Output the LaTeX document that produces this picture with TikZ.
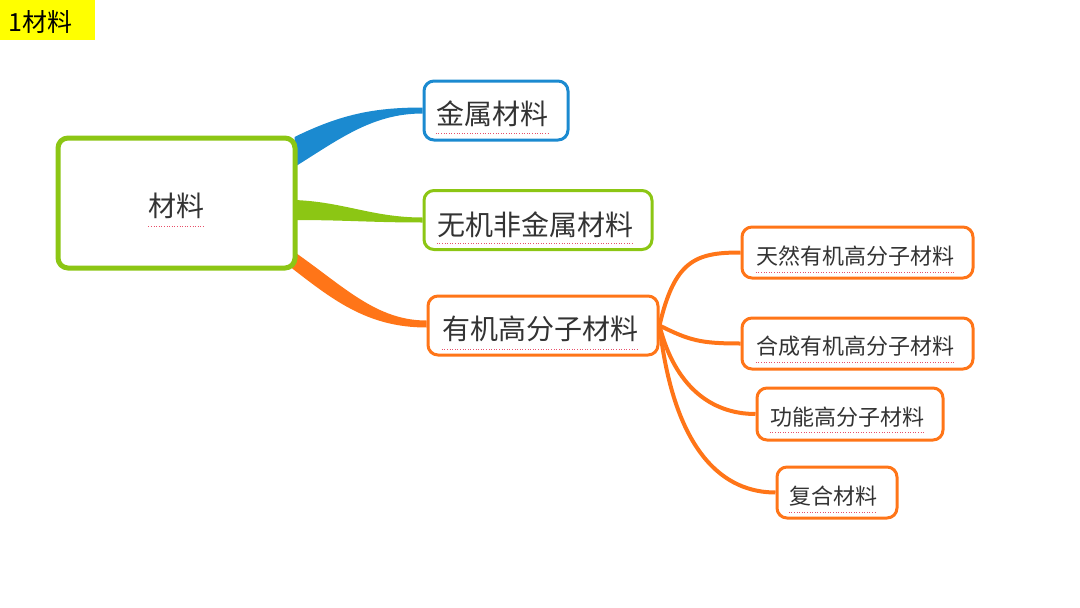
\documentclass[tikz,border=0pt]{standalone}
\usepackage{fontspec}
\setmainfont{Noto Sans CJK SC}
\usetikzlibrary{calc,backgrounds}
\definecolor{cblue}{HTML}{1B8AD0}
\definecolor{cgreen}{HTML}{8CC614}
\definecolor{corange}{HTML}{FF7518}
\definecolor{ctext}{HTML}{333333}
\definecolor{cspell}{HTML}{E8506A}
\definecolor{cyellow}{HTML}{FFFF00}
\begin{document}
\begin{tikzpicture}[x=1pt,y=-1pt,
  box/.style={draw, fill=white, rounded corners=10pt, line width=3pt, inner sep=0pt},
  lbl/.style={text=ctext, inner sep=0pt, anchor=base},
  big/.style={font=\fontsize{28}{30}\selectfont},
  small/.style={font=\fontsize{22}{24}\selectfont},
  spell/.style={cspell, line width=1pt, dash pattern=on 1pt off 1.6pt},
  sub/.style={corange, line width=4pt}]
\useasboundingbox (0,0) rectangle (1080,608);

% title
\node[fill=cyellow, minimum width=95pt, minimum height=40pt, anchor=north west, inner sep=0pt] (title) at (0,0) {};
\node[anchor=base west, inner sep=0pt, font=\fontsize{25}{27}\selectfont] (tt) at (8,31) {1材料};

% boxes
\node[box, draw=cgreen, line width=5pt, minimum width=237pt, minimum height=130pt] (root) at (176.5,203) {};
\node[box, draw=cblue, minimum width=144pt, minimum height=59pt] (b1) at (496,110.5) {};
\node[box, draw=cgreen, minimum width=228pt, minimum height=59pt] (b2) at (538,220) {};
\node[box, draw=corange, minimum width=230pt, minimum height=59pt] (b3) at (543,325.5) {};
\node[box, draw=corange, minimum width=231pt, minimum height=51pt] (c1) at (857.5,252.5) {};
\node[box, draw=corange, minimum width=231pt, minimum height=51pt] (c2) at (857.5,343.5) {};
\node[box, draw=corange, minimum width=186pt, minimum height=52pt] (c3) at (850,414) {};
\node[box, draw=corange, minimum width=120pt, minimum height=51pt] (c4) at (837,492.5) {};

% branches behind the boxes
\begin{scope}[on background layer]
\path[fill=cblue] ($(root.east)+(-3,-66)$) .. controls +(45,-22) and +(-50,0) .. ($(b1.west)+(0,-3)$)
  -- ($(b1.west)+(0,3)$) .. controls +(-50,0) and +(45,-28) .. ($(root.east)+(-3,-36)$) -- cycle;
\path[fill=cgreen] ($(root.east)+(-3,-3)$) .. controls +(50,2) and +(-50,0) .. ($(b2.west)+(0,-2.5)$)
  -- ($(b2.west)+(0,2.5)$) .. controls +(-50,0) and +(50,0) .. ($(root.east)+(-3,17)$) -- cycle;
\path[fill=corange] ($(root.east)+(-3,49)$) .. controls +(50,35) and +(-50,0) .. ($(b3.west)+(0,-5)$)
  -- ($(b3.west)+(0,2)$) .. controls +(-60,0) and +(45,35) .. ($(root.east)+(-11,61)$) -- cycle;
\draw[sub] (b3.east) .. controls +(15,-65) and +(-45,0) .. (c1.west);
\draw[sub] (b3.east) .. controls +(30,15) and +(-40,0) .. (c2.west);
\draw[sub] (b3.east) .. controls +(15,60) and +(-45,0) .. (c3.west);
\draw[sub] (b3.east) .. controls +(15,130) and +(-50,0) .. (c4.west);
\end{scope}

% labels
\node[lbl, big] (t0) at (176.5,216) {材料};
\node[lbl, big] (t1) at (492,124) {金属材料};
\node[lbl, big] (t2) at (535,235) {无机非金属材料};
\node[lbl, big] (t3) at (540,339) {有机高分子材料};
\node[lbl, small] (u1) at (855,264.5) {天然有机高分子材料};
\node[lbl, small] (u2) at (855,354.5) {合成有机高分子材料};
\node[lbl, small] (u3) at (847,425) {功能高分子材料};
\node[lbl, small] (u4) at (833,504.5) {复合材料};

% spell-check underlines
\foreach \n/\d in {t0/10,t1/9,t2/8,t3/10,u1/8,u2/8,u3/7,u4/7.5}{
  \draw[spell] ($(\n.base west)+(0,\d)$) -- ($(\n.base east)+(0,\d)$);
}
\end{tikzpicture}
\end{document}
